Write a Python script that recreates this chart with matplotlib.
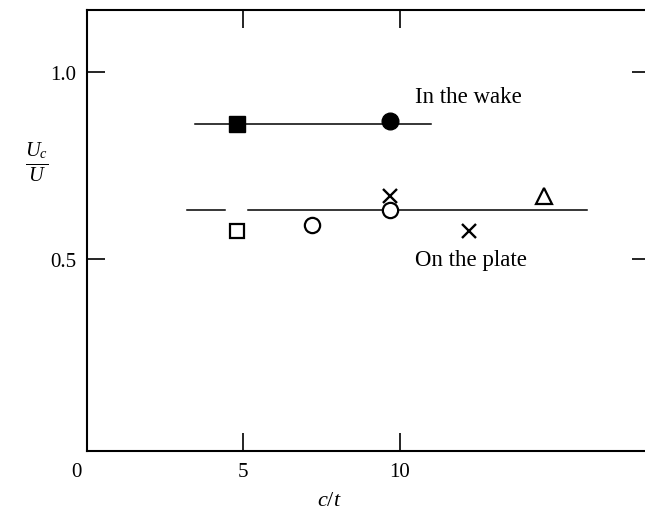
import matplotlib
matplotlib.use("Agg")
import matplotlib.pyplot as plt
import matplotlib.transforms as mtransforms

# data (c/t vs Uc/U)
wake_sq_x = [4.8]
wake_sq_y = [0.86]
wake_circ_x = [9.7]
wake_circ_y = [0.87]
wake_line_x = [3.45, 11.0]
wake_line_y = [0.86, 0.86]

plate_sq_x = [4.8]
plate_sq_y = [0.575]
plate_circ_x = [7.2, 9.7]
plate_circ_y = [0.59, 0.63]
plate_cross_x = [9.7, 12.2]
plate_cross_y = [0.67, 0.575]
plate_tri_x = [14.6]
plate_tri_y = [0.67]
# plate fit line, drawn with a small break above the open square
plate_line_segs = [([3.2, 4.4], [0.63, 0.63]), ([5.15, 16.0], [0.63, 0.63])]

xticks = [0, 5, 10]
yticks = [0.5, 1.0]
ytick_labels = ["0.5", "1.0"]

plt.rcParams['font.family'] = ['Liberation Serif', 'DejaVu Serif']
plt.rcParams['mathtext.fontset'] = 'custom'
plt.rcParams['mathtext.it'] = 'Liberation Serif:italic'
plt.rcParams['mathtext.rm'] = 'Liberation Serif'

fig = plt.figure(figsize=(6.45, 5.10), dpi=100)
ax = fig.add_axes([87 / 645, 58 / 510, 563 / 645, 441 / 510])

ax.plot(wake_line_x, wake_line_y, color='black', lw=1.1, zorder=1)
for sx, sy in plate_line_segs:
    ax.plot(sx, sy, color='black', lw=1.1, zorder=1)

ax.plot(wake_sq_x, wake_sq_y, 's', ms=11, color='black', zorder=3)
ax.plot(wake_circ_x, wake_circ_y, 'o', ms=12, color='black', zorder=3)

ax.plot(plate_sq_x, plate_sq_y, 's', ms=9.5, mfc='white', mec='black', mew=1.6, zorder=3)
ax.plot(plate_circ_x, plate_circ_y, 'o', ms=11, mfc='white', mec='black', mew=1.6, zorder=3)
ax.plot(plate_cross_x, plate_cross_y, 'x', ms=9.5, mec='black', mew=1.7, zorder=3)
ax.plot(plate_tri_x, plate_tri_y, '^', ms=12, mfc='white', mec='black', mew=1.6, zorder=3)

ax.text(10.5, 0.935, "In the wake", fontsize=16.5, va='center')
ax.text(10.5, 0.50, "On the plate", fontsize=16.5, va='center')

ax.set_xlim(0, 18)
ax.set_ylim(-0.013, 1.166)
ax.set_xticks(xticks)
ax.set_yticks(yticks)
ax.set_yticklabels(ytick_labels)
ax.tick_params(axis='both', direction='in', length=13, width=1.2, labelsize=15,
               top=True, right=True, pad=8)
for s in ax.spines.values():
    s.set_linewidth(1.5)

# the "0" at the origin sits a little left of the spine
lbl0 = ax.get_xticklabels()[0]
lbl0.set_transform(lbl0.get_transform() + mtransforms.ScaledTranslation(-11 / 100, 0, fig.dpi_scale_trans))

ax.set_xlabel("$c/t$", fontsize=16)
ax.xaxis.set_label_coords(0.43, -0.09)
ax.set_ylabel(r"$\frac{U_c}{U}$", fontsize=21, rotation=0, va='center', ha='center')
ax.yaxis.set_label_coords(-0.09, 0.655)

fig.savefig("out.png", dpi=100)
